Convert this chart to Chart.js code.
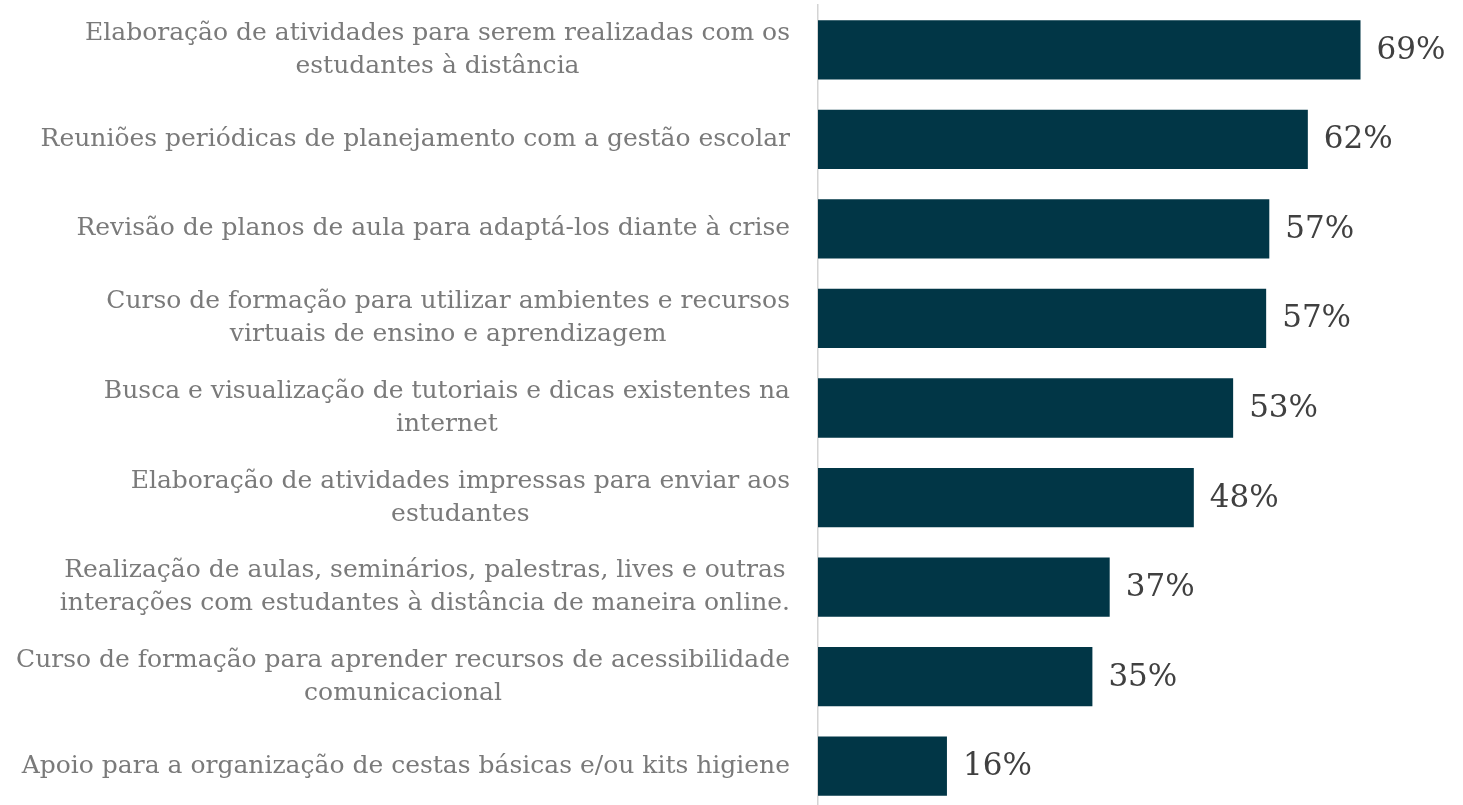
<!DOCTYPE html>
<html>
<head>
<meta charset="utf-8">
<script src="https://cdn.jsdelivr.net/npm/chart.js@4.4.1/dist/chart.umd.min.js"></script>
<style>
  html, body { margin: 0; padding: 0; background: #ffffff; overflow: hidden; }
  #wrap { width: 1463px; height: 805px; overflow: hidden; position: relative; }
  #c { display: block; }
</style>
</head>
<body>
<div id="wrap"><canvas id="c" width="1463" height="811"></canvas></div>
<script>
const categories = [
  ["Elaboração de atividades para serem realizadas com os", "estudantes à distância"],
  ["Reuniões periódicas de planejamento com a gestão escolar"],
  ["Revisão de planos de aula para adaptá-los diante à crise"],
  ["Curso de formação para utilizar ambientes e recursos", "virtuais de ensino e aprendizagem"],
  ["Busca e visualização de tutoriais e dicas existentes na", "internet"],
  ["Elaboração de atividades impressas para enviar aos", "estudantes"],
  ["Realização de aulas, seminários, palestras, lives e outras ", "interações com estudantes à distância de maneira online."],
  ["Curso de formação para aprender recursos de acessibilidade", "comunicacional"],
  ["Apoio para a organização de cestas básicas e/ou kits higiene"]
];
const values = [69.0, 62.3, 57.4, 57.0, 52.8, 47.8, 37.1, 34.9, 16.4];

const FONT = '"DejaVu Serif", Georgia, serif';

const labelPlugin = {
  id: 'labelPlugin',
  afterDraw(chart) {
    const ctx = chart.ctx;
    const yScale = chart.scales.y;
    const meta = chart.getDatasetMeta(0);
    ctx.save();
    ctx.font = '25px ' + FONT;
    ctx.fillStyle = '#7a7a7a';
    ctx.textAlign = 'center';
    ctx.textBaseline = 'middle';
    const right = chart.chartArea.left - 28;
    const lh = 33;
    categories.forEach((lines, i) => {
      const cy = yScale.getPixelForTick(i);
      let maxW = 0;
      lines.forEach(l => { maxW = Math.max(maxW, ctx.measureText(l.trimEnd()).width); });
      const cx = right - maxW / 2;
      lines.forEach((l, k) => {
        const y = cy - (lines.length - 1) * lh / 2 + k * lh;
        ctx.fillText(l.trimEnd(), cx, y);
      });
    });
    ctx.font = '31px ' + FONT;
    ctx.fillStyle = '#404040';
    ctx.textAlign = 'left';
    meta.data.forEach((bar, i) => {
      ctx.fillText(Math.round(values[i]) + '%', bar.x + 16, bar.y + 1);
    });
    ctx.restore();
  }
};

new Chart(document.getElementById('c'), {
  type: 'bar',
  data: {
    labels: categories,
    datasets: [{
      data: values,
      backgroundColor: '#013646',
      borderWidth: 0,
      categoryPercentage: 1.0,
      barPercentage: 0.662
    }]
  },
  options: {
    indexAxis: 'y',
    responsive: false,
    animation: false,
    layout: { padding: { top: 5, right: 16, bottom: 0, left: 0 } },
    plugins: { legend: { display: false }, tooltip: { enabled: false } },
    scales: {
      x: { display: false, min: 0, max: 80 },
      y: {
        position: 'left',
        grid: { display: false },
        border: { display: true, color: '#d4d4d4', width: 1.5 },
        ticks: { display: false },
        afterFit(scale) { scale.width = 818; }
      }
    }
  },
  plugins: [labelPlugin]
});
</script>
</body>
</html>
